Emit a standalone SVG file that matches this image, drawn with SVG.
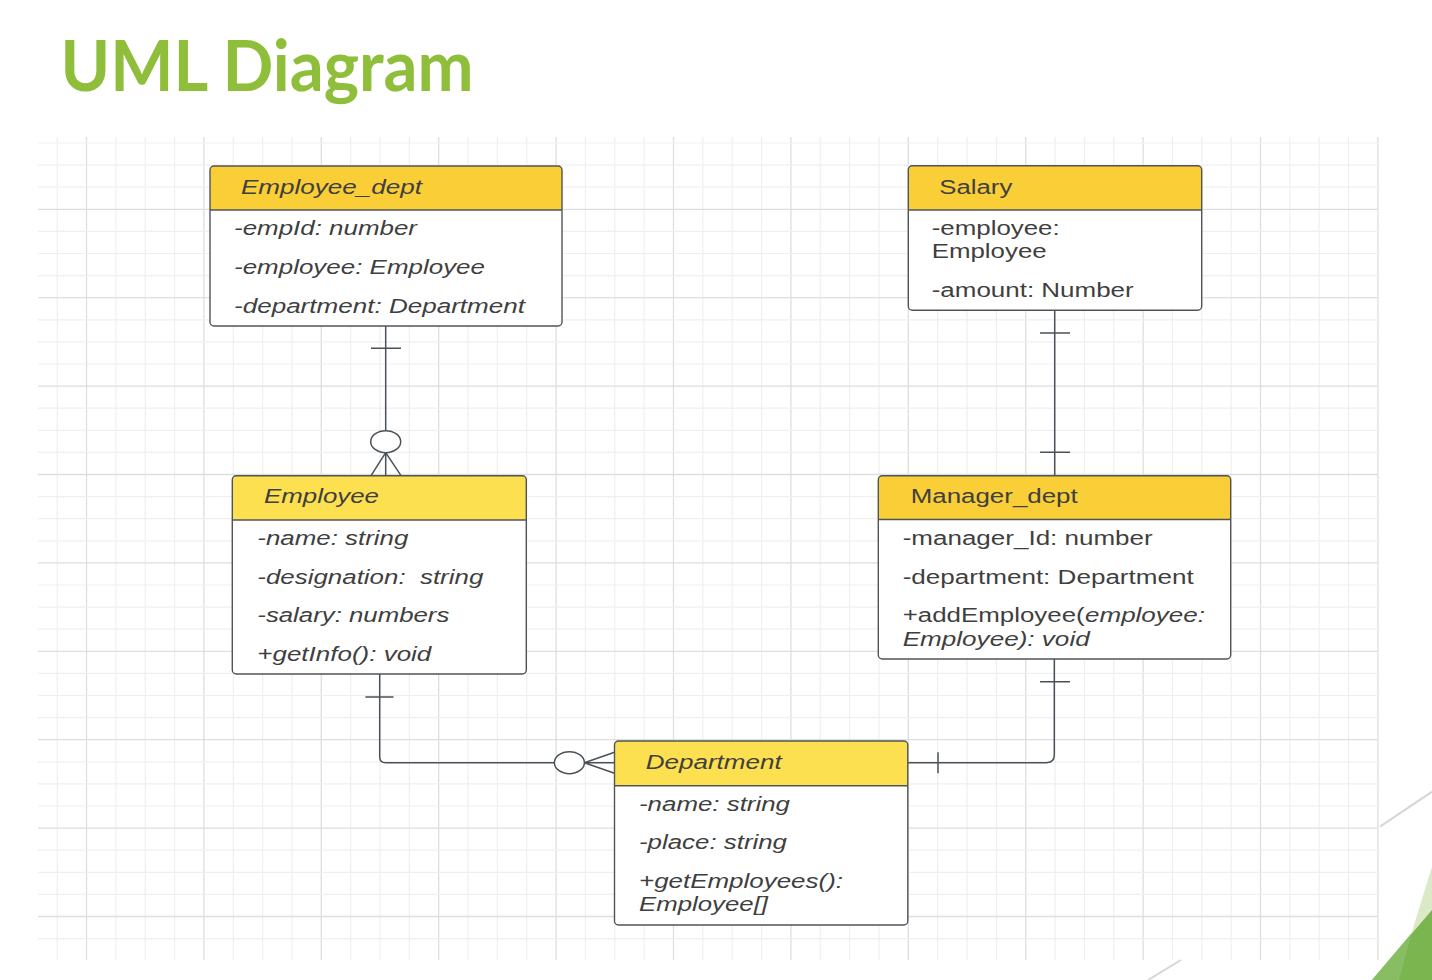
<svg xmlns="http://www.w3.org/2000/svg" width="1432" height="980" viewBox="0 0 1432 980">
<style>
.gmin{stroke:#efefef;stroke-width:1.2;fill:none}
.gmaj{stroke:#dedede;stroke-width:1.3;fill:none}
.body{fill:#ffffff;stroke:none}
.hdA{fill:#f9ce36;stroke:none}
.hdB{fill:#fde04f;stroke:none}
.frame{fill:none;stroke:#50545a;stroke-width:1.4}
.div{stroke:#50545a;stroke-width:1.4}
.t{font-family:"Liberation Sans",Arial,sans-serif;font-size:20px;fill:#3f3f3f}
.i{font-style:italic}
.conn{fill:none;stroke:#4b5159;stroke-width:1.5}
.foot{fill:#ffffff;stroke:#4b5159;stroke-width:1.5}
</style>
<rect width="1432" height="980" fill="#ffffff"/>
<text x="60.5" y="90.7" font-family="Lato,'Open Sans',sans-serif" font-weight="bold" font-size="70" fill="#8fbe3a" textLength="413" lengthAdjust="spacingAndGlyphs">UML Diagram</text>
<g id="grid">
<path class="gmin" d="M57.2 137V960M115.85 137V960M145.2 137V960M174.55 137V960M233.25 137V960M262.6 137V960M291.95 137V960M350.65 137V960M380 137V960M409.35 137V960M468.05 137V960M497.4 137V960M526.75 137V960M585.45 137V960M614.8 137V960M644.15 137V960M702.85 137V960M732.2 137V960M761.55 137V960M820.25 137V960M849.6 137V960M878.95 137V960M937.65 137V960M967 137V960M996.35 137V960M1055.05 137V960M1084.4 137V960M1113.75 137V960M1172.45 137V960M1201.8 137V960M1231.15 137V960M1289.85 137V960M1319.2 137V960M1348.55 137V960"/>
<path class="gmaj" d="M86.5 137V960M203.9 137V960M321.3 137V960M438.7 137V960M556.1 137V960M673.5 137V960M790.9 137V960M908.3 137V960M1025.7 137V960M1143.1 137V960M1260.5 137V960M1377.9 137V960"/>
<path class="gmin" d="M38 143H1378M38 165.1H1378M38 187.2H1378M38 231.4H1378M38 253.5H1378M38 275.6H1378M38 319.8H1378M38 341.9H1378M38 364H1378M38 408.2H1378M38 430.3H1378M38 452.4H1378M38 496.6H1378M38 518.7H1378M38 540.8H1378M38 585H1378M38 607.1H1378M38 629.2H1378M38 673.4H1378M38 695.5H1378M38 717.6H1378M38 761.8H1378M38 783.9H1378M38 806H1378M38 850.2H1378M38 872.3H1378M38 894.4H1378M38 938.6H1378"/>
<path class="gmaj" d="M38 209.3H1378M38 297.7H1378M38 386.1H1378M38 474.5H1378M38 562.9H1378M38 651.3H1378M38 739.7H1378M38 828.1H1378M38 916.5H1378"/>
</g>
<g id="decor">
<line x1="1380" y1="826.7" x2="1432" y2="791.7" stroke="#d6d6d6" stroke-width="2"/>
<line x1="1148" y1="980" x2="1181" y2="960" stroke="#d6d6d6" stroke-width="2"/>
<polygon points="1432,866.7 1432,980 1397,980" fill="#dce9c6"/>
<polygon points="1372,980 1432,910 1432,980" fill="#7ab550"/>
<polygon points="1372,980 1411.7,933 1399,980" fill="#89bd63"/>
</g>
<g id="connectors">
<path class="conn" d="M385.7 325.7V430.7M385.7 452.7V475.7M371 348.3H401M385.7 452.7L371 475.7M385.7 452.7L401 475.7"/>
<ellipse class="foot" cx="385.7" cy="441.7" rx="15" ry="11"/>
<path class="conn" d="M379.7 674V756.7Q379.7 762.7 385.7 762.7H554.4M365.4 697H393.5M584.4 762.7H614.5M584.4 762.7L614.5 752.3M584.4 762.7L614.5 773.3"/>
<ellipse class="foot" cx="569.4" cy="762.7" rx="15" ry="11"/>
<path class="conn" d="M907.8 762.7H1046.3Q1054.3 762.7 1054.3 754.7V659M938 752.3V773.3M1040 681.7H1070"/>
<path class="conn" d="M1054.7 310.3V475.7M1040 333H1070M1040 452.3H1070"/>
</g>
<g id="employee_dept">
<rect class="body" x="210" y="166" width="352" height="160" rx="4"/>
<path class="hdA" d="M210 210V170Q210 166 214 166H558Q562 166 562 170V210Z"/>
<line class="div" x1="210" y1="210" x2="562" y2="210"/>
<rect class="frame" x="210" y="166" width="352" height="160" rx="4"/>
<text class="t i" x="241" y="194" textLength="181" lengthAdjust="spacingAndGlyphs">Employee_dept</text>
<text class="t i" x="234" y="235" textLength="183" lengthAdjust="spacingAndGlyphs">-empId: number</text>
<text class="t i" x="234" y="274" textLength="251" lengthAdjust="spacingAndGlyphs">-employee: Employee</text>
<text class="t i" x="234" y="313" textLength="291" lengthAdjust="spacingAndGlyphs">-department: Department</text>
</g>
<g id="salary">
<rect class="body" x="908.3" y="165.7" width="293.4" height="144.6" rx="4"/>
<path class="hdA" d="M908.3 210V169.7Q908.3 165.7 912.3 165.7H1197.7Q1201.7 165.7 1201.7 169.7V210Z"/>
<line class="div" x1="908.3" y1="210" x2="1201.7" y2="210"/>
<rect class="frame" x="908.3" y="165.7" width="293.4" height="144.6" rx="4"/>
<text class="t" x="939.3" y="194" textLength="73" lengthAdjust="spacingAndGlyphs">Salary</text>
<text class="t" x="931.7" y="235" textLength="128" lengthAdjust="spacingAndGlyphs">-employee:</text>
<text class="t" x="931.7" y="258.3" textLength="115" lengthAdjust="spacingAndGlyphs">Employee</text>
<text class="t" x="931.7" y="296.7" textLength="202" lengthAdjust="spacingAndGlyphs">-amount: Number</text>
</g>
<g id="employee">
<rect class="body" x="232.3" y="475.7" width="294" height="198.3" rx="4"/>
<path class="hdB" d="M232.3 520V479.7Q232.3 475.7 236.3 475.7H522.3Q526.3 475.7 526.3 479.7V520Z"/>
<line class="div" x1="232.3" y1="520" x2="526.3" y2="520"/>
<rect class="frame" x="232.3" y="475.7" width="294" height="198.3" rx="4"/>
<text class="t i" x="264" y="503.3" textLength="115" lengthAdjust="spacingAndGlyphs">Employee</text>
<text class="t i" x="257.3" y="545" textLength="151" lengthAdjust="spacingAndGlyphs">-name: string</text>
<text class="t i" x="257.3" y="584.3" textLength="226" lengthAdjust="spacingAndGlyphs" xml:space="preserve">-designation:  string</text>
<text class="t i" x="257.3" y="622.3" textLength="192" lengthAdjust="spacingAndGlyphs">-salary: numbers</text>
<text class="t i" x="257.3" y="660.7" textLength="174" lengthAdjust="spacingAndGlyphs">+getInfo(): void</text>
</g>
<g id="manager_dept">
<rect class="body" x="878.3" y="475.7" width="352.4" height="183.3" rx="4"/>
<path class="hdA" d="M878.3 519.5V479.7Q878.3 475.7 882.3 475.7H1226.7Q1230.7 475.7 1230.7 479.7V519.5Z"/>
<line class="div" x1="878.3" y1="519.5" x2="1230.7" y2="519.5"/>
<rect class="frame" x="878.3" y="475.7" width="352.4" height="183.3" rx="4"/>
<text class="t" x="910.7" y="503.3" textLength="167" lengthAdjust="spacingAndGlyphs">Manager_dept</text>
<text class="t" x="902.7" y="545" textLength="250" lengthAdjust="spacingAndGlyphs">-manager_Id: number</text>
<text class="t" x="902.7" y="584" textLength="291" lengthAdjust="spacingAndGlyphs">-department: Department</text>
<text class="t" x="902.7" y="621.7" textLength="182" lengthAdjust="spacingAndGlyphs">+addEmployee(</text>
<text class="t i" x="1085" y="621.7" textLength="120" lengthAdjust="spacingAndGlyphs">employee:</text>
<text class="t i" x="902.7" y="645.7" textLength="187" lengthAdjust="spacingAndGlyphs">Employee): void</text>
</g>
<g id="department">
<rect class="body" x="614.5" y="741" width="293.3" height="184" rx="4"/>
<path class="hdB" d="M614.5 785.7V745Q614.5 741 618.5 741H903.8Q907.8 741 907.8 745V785.7Z"/>
<line class="div" x1="614.5" y1="785.7" x2="907.8" y2="785.7"/>
<rect class="frame" x="614.5" y="741" width="293.3" height="184" rx="4"/>
<text class="t i" x="645.7" y="769" textLength="136" lengthAdjust="spacingAndGlyphs">Department</text>
<text class="t i" x="639" y="810.7" textLength="151" lengthAdjust="spacingAndGlyphs">-name: string</text>
<text class="t i" x="639" y="849.3" textLength="148" lengthAdjust="spacingAndGlyphs">-place: string</text>
<text class="t i" x="639" y="888.3" textLength="204" lengthAdjust="spacingAndGlyphs">+getEmployees():</text>
<text class="t i" x="639" y="911" textLength="129" lengthAdjust="spacingAndGlyphs">Employee[]</text>
</g>
</svg>
